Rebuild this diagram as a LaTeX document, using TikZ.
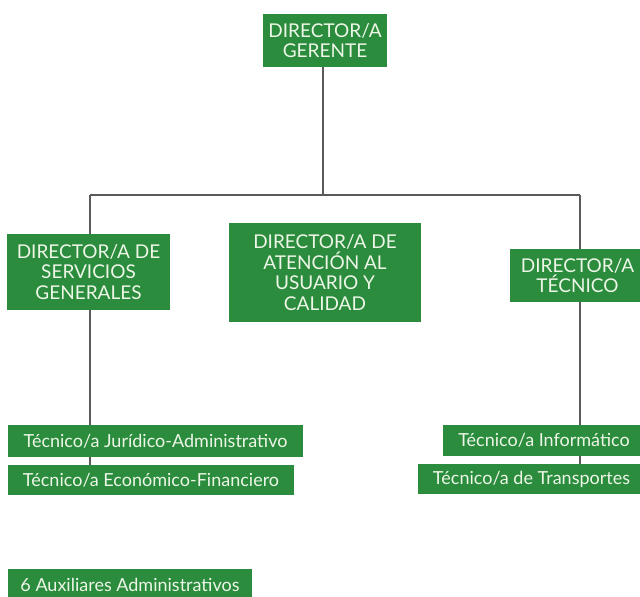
\documentclass[tikz,border=0pt]{standalone}
\usepackage{fontspec}
\setmainfont{Lato}
\definecolor{boxgreen}{HTML}{2A8C3C}
\definecolor{boxtext}{HTML}{EEF6E8}
\definecolor{linegray}{HTML}{5A5A5A}
\begin{document}
\begin{tikzpicture}[x=1pt,y=-1pt,
  gbox/.style={draw=none,fill=boxgreen,text=boxtext,align=center,inner sep=0pt,font=\fontsize{19}{20.5}\selectfont},
  tbox/.style={draw=none,fill=boxgreen,text=boxtext,inner sep=0pt,font=\fontsize{18}{20}\selectfont},
  conn/.style={draw=linegray,line width=1.6pt}]
\useasboundingbox (0,0) rectangle (640,597);
\fill[white] (0,0) rectangle (640,597);
\begin{scope}
\clip (0,0) rectangle (640,597);
\node[gbox,minimum width=124pt,minimum height=53pt] (dg) at (325,40.5) {DIRECTOR/A\\GERENTE};
\node[gbox,minimum width=163pt,minimum height=76pt] (sg) at (88.5,272) {DIRECTOR/A DE\\SERVICIOS\\GENERALES};
\node[gbox,minimum width=192pt,minimum height=99pt] (au) at (325,272.5) {DIRECTOR/A DE\\ATENCIÓN AL\\USUARIO Y\\CALIDAD};
\node[gbox,minimum width=135pt,minimum height=53pt] (dt) at (577.5,275.5) {DIRECTOR/A\\TÉCNICO};
\node[tbox,minimum width=295pt,minimum height=32pt] (tj) at (155.5,441) {Técnico/a Jurídico-Administrativo};
\node[tbox,minimum width=286pt,minimum height=30pt] (te) at (151,480) {Técnico/a Económico-Financiero};
\node[tbox,minimum width=202pt,minimum height=31pt] (ti) at (544,440.5) {Técnico/a Informático};
\node[tbox,minimum width=227pt,minimum height=30pt] (tt) at (531.5,479) {Técnico/a de Transportes};
\node[tbox,minimum width=244pt,minimum height=31pt] (ax) at (130,584.5) {6 Auxiliares Administrativos};
\coordinate (hl) at (90,195);
\coordinate (hr) at (580,195);
\coordinate (hc) at (323,195);
\draw[conn] (dg.south -| hc) -- (hc);
\draw[conn] (hl) -- (hr);
\draw[conn] (hl) -- (hl |- sg.north);
\draw[conn] (hl |- sg.south) -- (hl |- tj.north);
\draw[conn] (hl |- tj.south) -- (hl |- te.north);
\draw[conn] (hr) -- (hr |- dt.north);
\draw[conn] (hr |- dt.south) -- (hr |- ti.north);
\draw[conn] (hr |- ti.south) -- (hr |- tt.north);
\end{scope}
\end{tikzpicture}
\end{document}
